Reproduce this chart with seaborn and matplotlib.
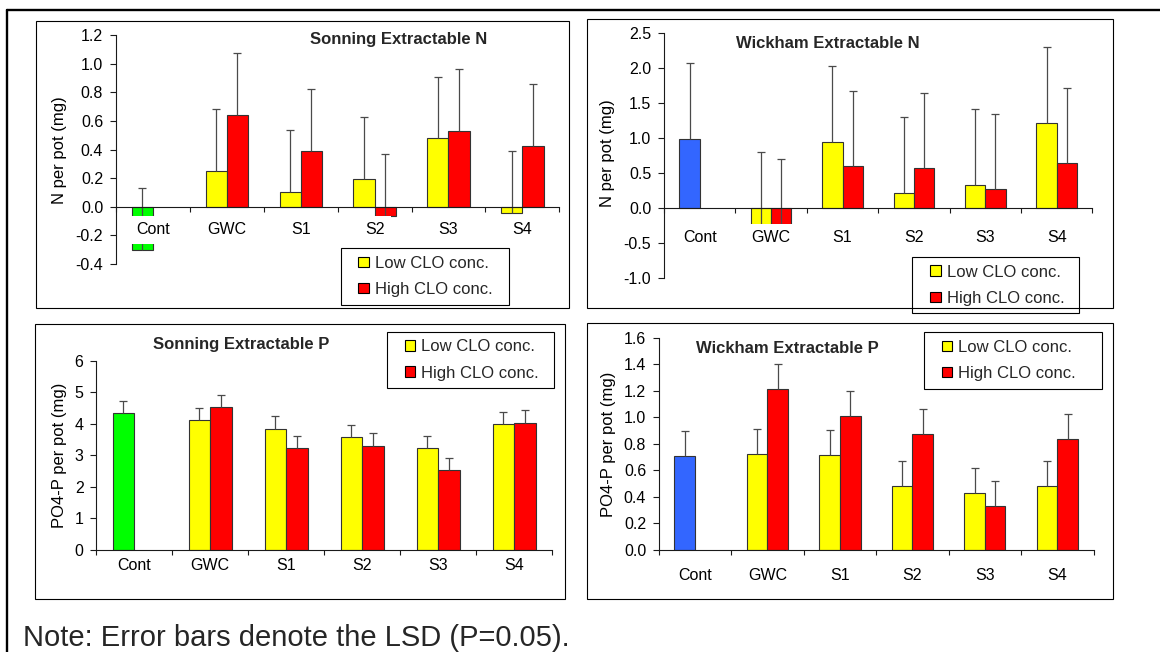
import numpy as np
import pandas as pd
import matplotlib
matplotlib.use("Agg")
import matplotlib.pyplot as plt
from matplotlib.patches import Rectangle, Patch
from matplotlib.lines import Line2D
from matplotlib.legend_handler import HandlerPatch
from matplotlib.ticker import FormatStrFormatter
import seaborn as sns

# ---------------------------------------------------------------- data
sites = ["Cont", "GWC", "S1", "S2", "S3", "S4"]
conc_levels = ["Low CLO conc.", "High CLO conc."]

# Sonning, extractable N (mg per pot); the control has a single bar
sonning_n_cont = -0.305
sonning_n_low = [0.248, 0.10, 0.195, 0.477, -0.045]
sonning_n_high = [0.644, 0.393, -0.065, 0.530, 0.426]
sonning_n_lsd = 0.433
sonning_n_yticks = [-0.4, -0.2, 0.0, 0.2, 0.4, 0.6, 0.8, 1.0, 1.2]

# Wickham, extractable N (mg per pot)
wickham_n_cont = 0.99
wickham_n_low = [-0.28, 0.95, 0.22, 0.33, 1.22]
wickham_n_high = [-0.38, 0.60, 0.57, 0.27, 0.64]
wickham_n_lsd = 1.08
wickham_n_yticks = [-1.0, -0.5, 0.0, 0.5, 1.0, 1.5, 2.0, 2.5]

# Sonning, extractable PO4-P (mg per pot)
sonning_p_cont = 4.34
sonning_p_low = [4.11, 3.84, 3.57, 3.23, 3.99]
sonning_p_high = [4.53, 3.22, 3.30, 2.52, 4.03]
sonning_p_lsd = 0.40
sonning_p_yticks = [0, 1, 2, 3, 4, 5, 6]

# Wickham, extractable PO4-P (mg per pot)
wickham_p_cont = 0.707
wickham_p_low = [0.72, 0.712, 0.478, 0.43, 0.483]
wickham_p_high = [1.213, 1.006, 0.873, 0.332, 0.835]
wickham_p_lsd = 0.19
wickham_p_yticks = [0.0, 0.2, 0.4, 0.6, 0.8, 1.0, 1.2, 1.4, 1.6]

# ---------------------------------------------------------------- style
YELLOW = "#FFFF00"
RED = "#FF0000"
GREEN = "#00FF00"
BLUE = "#3366FF"
EDGE = "#333333"
ERR = "#4a4a4a"
AXC = "#1a1a1a"

sns.set_theme(style="white")
plt.rcParams["font.family"] = ["Liberation Sans", "DejaVu Sans"]
plt.rcParams["axes.unicode_minus"] = False

W, H = 1160, 652
fig = plt.figure(figsize=(W / 100, H / 100), dpi=100)
fig.patch.set_facecolor("white")


def fx(px):
    return px / W


def fy(py):
    return 1 - py / H


def axes_at(left, top, right, bottom):
    return fig.add_axes([fx(left), fy(bottom), fx(right - left), (bottom - top) / H])


def panel_frame(left, top, right, bottom):
    fig.add_artist(Rectangle((fx(left), fy(bottom)), fx(right - left), (bottom - top) / H,
                             transform=fig.transFigure, fill=False, ec="black", lw=0.8))


def square_patch(legend, orig_handle, xdescent, ydescent, width, height, fontsize):
    return Rectangle((width - height - xdescent, -ydescent), height, height)


def make_frame(cont, low, high):
    rows = [("Cont", conc_levels[0], cont)]
    rows += [(s, conc_levels[0], v) for s, v in zip(sites[1:], low)]
    rows += [(s, conc_levels[1], v) for s, v in zip(sites[1:], high)]
    return pd.DataFrame(rows, columns=["site", "conc", "value"])


def draw_panel(ax, df, lsd, cont_color, yticks, yfmt, title, title_xy, ylabel, ylabel_xy,
               xpad, legend_box):
    sns.barplot(data=df, x="site", y="value", hue="conc", order=sites, hue_order=conc_levels,
                palette=dict(zip(conc_levels, [YELLOW, RED])), width=0.57, errorbar=None,
                saturation=1, edgecolor=EDGE, linewidth=0.8, legend=False, ax=ax)

    # LSD bars drawn upward from each bar's value, control bar recoloured
    xs, ys = [], []
    for container, level in zip(ax.containers, conc_levels):
        sub = df[df["conc"] == level].set_index("site").reindex(sites).dropna()
        for bar, (site, row) in zip(container, sub.iterrows()):
            if site == "Cont":
                bar.set_facecolor(cont_color)
            xs.append(bar.get_x() + bar.get_width() / 2)
            ys.append(row["value"])
    ys = np.array(ys)
    eb = ax.errorbar(xs, ys, yerr=[np.zeros_like(ys), np.full_like(ys, lsd)], fmt="none",
                     ecolor=ERR, elinewidth=0.9, capsize=2.6, capthick=0.9, zorder=2)
    eb[1][0].set_visible(False)

    # category axis crosses the value axis at zero
    for side in ("top", "right"):
        ax.spines[side].set_visible(False)
    ax.spines["bottom"].set_position(("data", 0))
    for side in ("left", "bottom"):
        ax.spines[side].set_color(AXC)
        ax.spines[side].set_linewidth(0.8)
    ax.patch.set_alpha(0)

    ax.set_axisbelow(False)
    ax.set_xlabel("")
    ax.set_ylabel(ylabel, fontsize=12, color="black")
    ax.yaxis.set_label_coords(fx(ylabel_xy[0]), fy(ylabel_xy[1]), transform=fig.transFigure)

    ax.set_ylim(yticks[0], yticks[-1])
    ax.set_yticks(yticks)
    ax.yaxis.set_major_formatter(FormatStrFormatter(yfmt))
    ax.tick_params(axis="y", which="major", left=True, direction="out", length=4.5, width=0.8,
                   color=AXC, pad=4.6, labelsize=11.5, labelcolor="black")

    n = len(sites)
    ax.set_xlim(-0.5, n - 0.5)
    ax.set_xticks(np.arange(n + 1) - 0.5)
    ax.set_xticklabels([""] * (n + 1))
    ax.set_xticks(np.arange(n), sites, minor=True)
    ax.tick_params(axis="x", which="major", bottom=True, direction="out", length=3.5, width=0.8,
                   color=AXC)
    ax.tick_params(axis="x", which="minor", bottom=True, length=0, pad=xpad, labelsize=11.5,
                   labelcolor="black")
    # category labels sit on an opaque white ground, masking bars below the axis
    for lbl in ax.get_xticklabels(minor=True):
        lbl.set_bbox(dict(facecolor="white", edgecolor="none", pad=4.5))

    fig.text(fx(title_xy[0]), fy(title_xy[1]), title, ha="center", va="baseline",
             fontsize=12, fontweight="bold")

    handles = [Patch(facecolor=YELLOW, edgecolor="black", linewidth=0.8),
               Patch(facecolor=RED, edgecolor="black", linewidth=0.8)]
    lx0, ly0, lx1 = legend_box
    leg = ax.legend(handles, conc_levels, loc="upper left",
                    bbox_to_anchor=(fx(lx0), fy(ly0), fx(lx1 - lx0), 0),
                    bbox_transform=fig.transFigure, mode="expand", borderaxespad=0,
                    borderpad=0.45, handlelength=1.25, handleheight=0.58, handletextpad=0.36,
                    labelspacing=0.68, fontsize=12, frameon=True, fancybox=False,
                    framealpha=1, edgecolor="black",
                    handler_map={Patch: HandlerPatch(patch_func=square_patch)})
    leg.get_frame().set_linewidth(0.8)


# ---------------------------------------------------------------- panels
panel_frame(35.9, 21, 568.6, 308.3)
panel_frame(587.4, 19.3, 1112.7, 308.3)
panel_frame(35.0, 324.3, 565.3, 598.7)
panel_frame(587.4, 323.3, 1112.7, 598.7)

ax_sn = axes_at(115.8, 35.0, 559.4, 264.0)
draw_panel(ax_sn, make_frame(sonning_n_cont, sonning_n_low, sonning_n_high), sonning_n_lsd,
           GREEN, sonning_n_yticks, "%.1f", "Sonning Extractable N", (398.6, 44.0),
           "N per pot (mg)", (66.6, 150.0), 11.3, (340.5, 248.3, 509.4))

ax_wn = axes_at(664.0, 33.3, 1092.4, 277.7)
draw_panel(ax_wn, make_frame(wickham_n_cont, wickham_n_low, wickham_n_high), wickham_n_lsd,
           BLUE, wickham_n_yticks, "%.1f", "Wickham Extractable N", (827.9, 48.0),
           "N per pot (mg)", (615.1, 153.3), 16.1, (912.2, 257.0, 1078.7))

ax_sp = axes_at(96.2, 361.0, 552.3, 549.7)
draw_panel(ax_sp, make_frame(sonning_p_cont, sonning_p_low, sonning_p_high), sonning_p_lsd,
           GREEN, sonning_p_yticks, "%d", "Sonning Extractable P", (241.4, 348.5),
           "PO4-P per pot (mg)", (67.3, 455.0), 6.2, (387.0, 331.7, 553.8))

ax_wp = axes_at(658.8, 337.7, 1093.5, 549.7)
draw_panel(ax_wp, make_frame(wickham_p_cont, wickham_p_low, wickham_p_high), wickham_p_lsd,
           BLUE, wickham_p_yticks, "%.1f", "Wickham Extractable P", (787.7, 353.0),
           "PO4-P per pot (mg)", (616.0, 444.2), 13.4, (924.0, 332.3, 1101.6))

# outer frame, open to the right and bottom
fig.add_artist(Line2D([fx(7.2), fx(W + 5)], [fy(9.5), fy(9.5)], transform=fig.transFigure,
                      color="black", lw=1.7))
fig.add_artist(Line2D([fx(7.2), fx(7.2)], [fy(9.5), fy(H + 5)], transform=fig.transFigure,
                      color="black", lw=1.7))

fig.text(fx(22.9), fy(645.5), "Note: Error bars denote the LSD (P=0.05).", fontsize=21,
         ha="left", va="baseline")

fig.savefig("out.png", dpi=100)
